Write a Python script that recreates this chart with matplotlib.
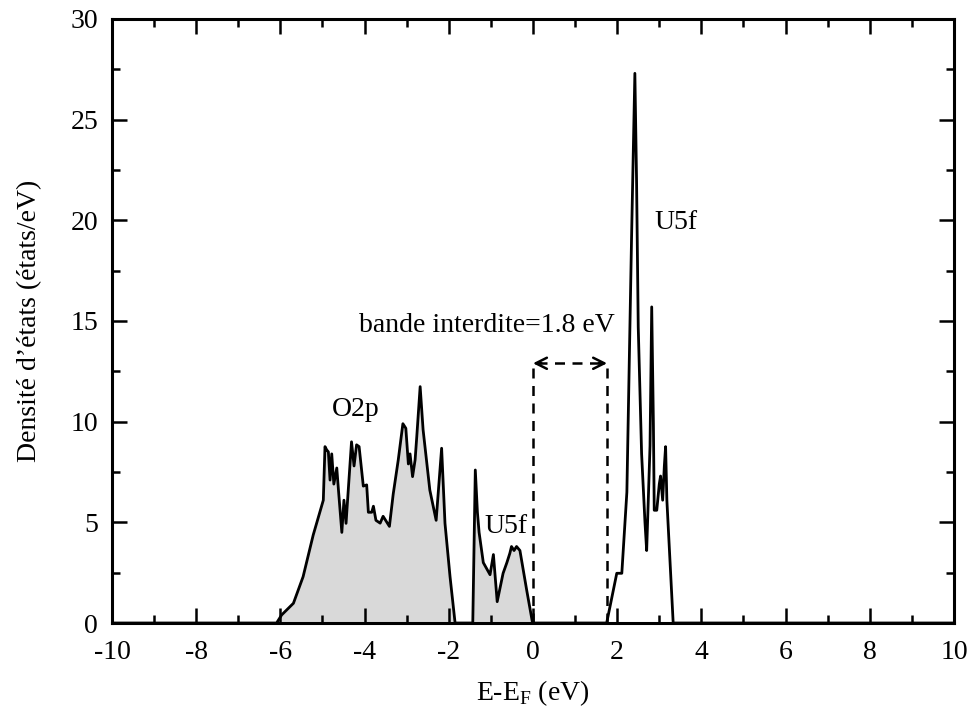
import matplotlib
matplotlib.use("Agg")
import matplotlib.pyplot as plt
from matplotlib.ticker import MultipleLocator

plt.rcParams["font.family"] = ["Liberation Serif", "DejaVu Serif"]
plt.rcParams["mathtext.fontset"] = "custom"
plt.rcParams["mathtext.rm"] = "Liberation Serif"
plt.rcParams["axes.unicode_minus"] = False

# valence band (O2p + U5f occupied), filled grey
e_val = [-10.0, -6.09, -5.97, -5.69, -5.46, -5.22, -4.98, -4.94, -4.90, -4.86,
         -4.82, -4.78, -4.73, -4.66, -4.62, -4.54, -4.49, -4.44, -4.41, -4.31,
         -4.25, -4.19, -4.13, -4.03, -3.95, -3.91, -3.83, -3.79, -3.73, -3.63,
         -3.56, -3.41, -3.32, -3.20, -3.09, -3.02, -2.96, -2.92, -2.86, -2.80,
         -2.76, -2.68, -2.61, -2.45, -2.30, -2.17, -2.09, -1.97, -1.85,
         -1.43, -1.37, -1.32, -1.28, -1.18, -1.02, -0.94, -0.85, -0.71, -0.62,
         -0.55, -0.51, -0.45, -0.39, -0.31, -0.15, -0.01]
dos_val = [0.0, 0.0, 0.4, 0.98, 2.3, 4.37, 6.1, 8.76, 8.6, 8.5,
           7.1, 8.4, 6.9, 7.7, 6.6, 4.5, 6.1, 4.95, 5.9, 9.0,
           7.8, 8.85, 8.76, 6.8, 6.86, 5.5, 5.5, 5.8, 5.1, 4.96,
           5.3, 4.8, 6.4, 8.1, 9.9, 9.67, 7.9, 8.4, 7.27, 8.1,
           9.26, 11.74, 9.6, 6.6, 5.1, 8.68, 4.95, 2.3, 0.0,
           0.0, 7.6, 5.5, 4.5, 3.0, 2.4, 3.4, 1.06, 2.47, 3.0,
           3.46, 3.8, 3.6, 3.8, 3.6, 1.64, 0.0]

# conduction band (U5f empty)
e_cond = [-0.01, 1.75, 1.99, 2.11, 2.23, 2.34, 2.42, 2.46, 2.50, 2.58, 2.66,
          2.70, 2.78, 2.82, 2.86, 2.88, 2.94, 3.00, 3.03, 3.08, 3.12, 3.15,
          3.18, 3.33, 10.0]
dos_cond = [0.0, 0.0, 2.47, 2.47, 6.5, 19.0, 27.3, 22.0, 14.7, 8.4, 5.0,
            3.6, 8.8, 15.7, 9.9, 5.6, 5.6, 6.9, 7.3, 6.1, 7.8, 8.76,
            6.1, 0.0, 0.0]

gap_lo, gap_hi, gap_y = 0.0, 1.76, 12.9

fig = plt.figure(figsize=(9.71, 7.19), dpi=100)
ax = fig.add_axes([0.1153, 0.1335, 0.8672, 0.8401])

ax.fill_between(e_val, dos_val, 0, color="#d9d9d9", lw=0)
ax.plot(e_val, dos_val, color="black", lw=2)
ax.plot(e_cond, dos_cond, color="black", lw=2)

# band gap marker
dash = (0, (4, 3))
ax.plot([gap_lo, gap_lo], [0, gap_y], color="black", lw=1.8, ls=dash)
ax.plot([gap_hi, gap_hi], [0, gap_y], color="black", lw=1.8, ls=dash)
ax.plot([gap_lo + 0.1, gap_hi - 0.1], [gap_y, gap_y], color="black", lw=1.8, ls=dash)
ax.annotate("", xy=(gap_lo, gap_y), xytext=(gap_lo + 0.2, gap_y),
            arrowprops=dict(arrowstyle="->", color="black", lw=1.8,
                            shrinkA=0, shrinkB=0, mutation_scale=20))
ax.annotate("", xy=(gap_hi, gap_y), xytext=(gap_hi - 0.2, gap_y),
            arrowprops=dict(arrowstyle="->", color="black", lw=1.8,
                            shrinkA=0, shrinkB=0, mutation_scale=20))

fs = 20
ax.text(-1.1, 14.8, "bande interdite=1.8 eV", fontsize=fs, ha="center", va="center")
ax.text(-4.2, 10.6, "O2p", fontsize=fs, ha="center", va="center")
ax.text(-0.64, 4.8, "U5f", fontsize=fs, ha="center", va="center")
ax.text(3.4, 19.9, "U5f", fontsize=fs, ha="center", va="center")

ax.set_xlim(-10, 10)
ax.set_ylim(0, 30)
ax.xaxis.set_major_locator(MultipleLocator(2))
ax.xaxis.set_minor_locator(MultipleLocator(1))
ax.yaxis.set_major_locator(MultipleLocator(5))
ax.yaxis.set_minor_locator(MultipleLocator(2.5))
ax.tick_params(which="both", direction="in", top=True, right=True,
               labelsize=fs, width=1.8)
ax.tick_params(axis="x", pad=12)
ax.tick_params(axis="y", pad=10)
ax.tick_params(which="major", length=11)
ax.tick_params(which="minor", length=5.5)
for s in ax.spines.values():
    s.set_linewidth(2.2)

ax.set_xlabel(r"E-E$_\mathrm{F}$ (eV)", fontsize=fs, labelpad=10)
ax.set_ylabel("Densité d’états (états/eV)", fontsize=fs, labelpad=20)

fig.savefig("out.png", dpi=100)
